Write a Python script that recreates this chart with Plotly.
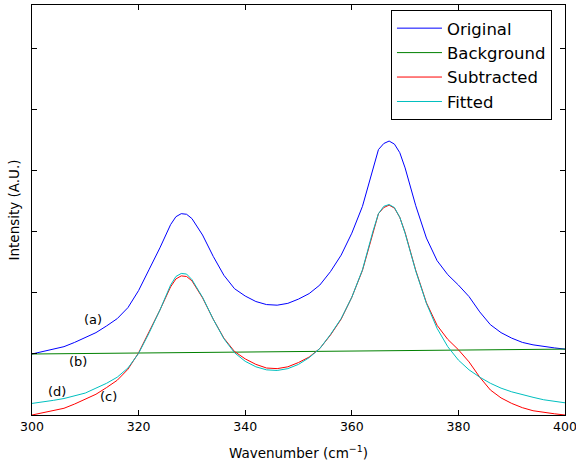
import plotly.graph_objects as go

wavenumber = [300, 302, 304, 306, 308, 310, 312, 314, 316, 318, 320, 322, 324, 326, 327, 328, 329, 330,
              332, 334, 336, 338, 340, 342, 344, 346, 348, 350, 352, 354, 356, 358, 360, 362, 364,
              365, 366, 367, 368, 369, 370, 372, 374, 376, 378, 380, 382, 384, 386, 388, 390, 392,
              394, 396, 398, 400]

original = [1.00, 1.04, 1.08, 1.12, 1.19, 1.27, 1.35, 1.46, 1.58, 1.76, 2.04, 2.39, 2.74, 3.12, 3.25, 3.30, 3.29, 3.22,
            2.95, 2.60, 2.29, 2.07, 1.95, 1.86, 1.81, 1.80, 1.83, 1.90, 1.99, 2.13, 2.35, 2.62, 2.98, 3.42, 4.06,
            4.35, 4.45, 4.49, 4.44, 4.30, 4.05, 3.43, 2.90, 2.53, 2.30, 2.13, 1.94, 1.69, 1.48, 1.35, 1.26, 1.19,
            1.15, 1.12, 1.10, 1.08]

background_x = [300, 400]
background = [1.00, 1.08]

subtracted = [0.00, 0.04, 0.08, 0.11, 0.18, 0.26, 0.34, 0.45, 0.57, 0.75, 1.02, 1.37, 1.72, 2.10, 2.23, 2.28, 2.27, 2.20,
              1.92, 1.57, 1.26, 1.04, 0.92, 0.83, 0.77, 0.76, 0.79, 0.86, 0.95, 1.09, 1.31, 1.57, 1.93, 2.37, 3.01,
              3.30, 3.40, 3.44, 3.39, 3.24, 2.99, 2.37, 1.84, 1.47, 1.24, 1.07, 0.87, 0.62, 0.41, 0.28, 0.19, 0.12,
              0.07, 0.04, 0.02, 0.00]

fitted = [0.19, 0.21, 0.24, 0.27, 0.31, 0.36, 0.44, 0.52, 0.62, 0.77, 1.01, 1.35, 1.72, 2.13, 2.27, 2.32, 2.31, 2.22,
          1.93, 1.57, 1.25, 1.02, 0.88, 0.79, 0.74, 0.73, 0.76, 0.83, 0.94, 1.09, 1.32, 1.58, 1.93, 2.38, 3.02,
          3.30, 3.42, 3.45, 3.40, 3.24, 2.98, 2.36, 1.83, 1.42, 1.12, 0.90, 0.74, 0.62, 0.52, 0.44, 0.38, 0.33,
          0.29, 0.25, 0.22, 0.20]

labels = ["(a)", "(b)", "(c)", "(d)"]
label_x = [311.4, 308.6, 314.4, 304.7]
label_y = [1.57, 0.87, 0.30, 0.39]

x_ticks = [300, 320, 340, 360, 380, 400]
y_ticks = [0, 1, 2, 3, 4, 5, 6]

FONT = "DejaVu Sans"

fig = go.Figure()
fig.add_trace(go.Scatter(x=wavenumber, y=original, mode="lines", name="Original",
                         line=dict(color="#0000ff", width=1)))
fig.add_trace(go.Scatter(x=background_x, y=background, mode="lines", name="Background",
                         line=dict(color="#008000", width=1)))
fig.add_trace(go.Scatter(x=wavenumber, y=subtracted, mode="lines", name="Subtracted",
                         line=dict(color="#ff0000", width=1)))
fig.add_trace(go.Scatter(x=wavenumber, y=fitted, mode="lines", name="Fitted",
                         line=dict(color="#00bfbf", width=1)))

for t, xx, yy in zip(labels, label_x, label_y):
    fig.add_annotation(x=xx, y=yy, text=t, showarrow=False,
                       font=dict(family=FONT, size=13, color="black"))

fig.update_layout(
    width=576, height=462,
    margin=dict(l=32, r=11, t=5, b=47),
    paper_bgcolor="white", plot_bgcolor="white",
    font=dict(family=FONT, color="black"),
    showlegend=True,
    legend=dict(x=0.6735, y=0.988, xanchor="left", yanchor="top",
                bgcolor="white", bordercolor="black", borderwidth=1,
                font=dict(family=FONT, size=16.5, color="black"),
                itemwidth=45, tracegroupgap=0),
    xaxis=dict(range=[300, 400], tickvals=x_ticks, ticks="inside", ticklen=5,
               tickcolor="black", showline=True, linecolor="black", linewidth=1,
               mirror="ticks", showgrid=False, zeroline=False,
               ticklabeloverflow="allow", automargin=False,
               tickfont=dict(family=FONT, size=12.5),
               title=dict(text="Wavenumber (cm<sup>\u22121</sup>)", font=dict(family=FONT, size=13.5),
                          standoff=15)),
    yaxis=dict(range=[0, 6.72], tickvals=y_ticks, ticks="inside", ticklen=5,
               tickcolor="black", showline=True, linecolor="black", linewidth=1,
               mirror="ticks", showgrid=False, zeroline=False, showticklabels=False,
               automargin=False,
               title=dict(text="Intensity (A.U.)", font=dict(family=FONT, size=13.5),
                          standoff=8)),
)

fig.write_html("out.html")
